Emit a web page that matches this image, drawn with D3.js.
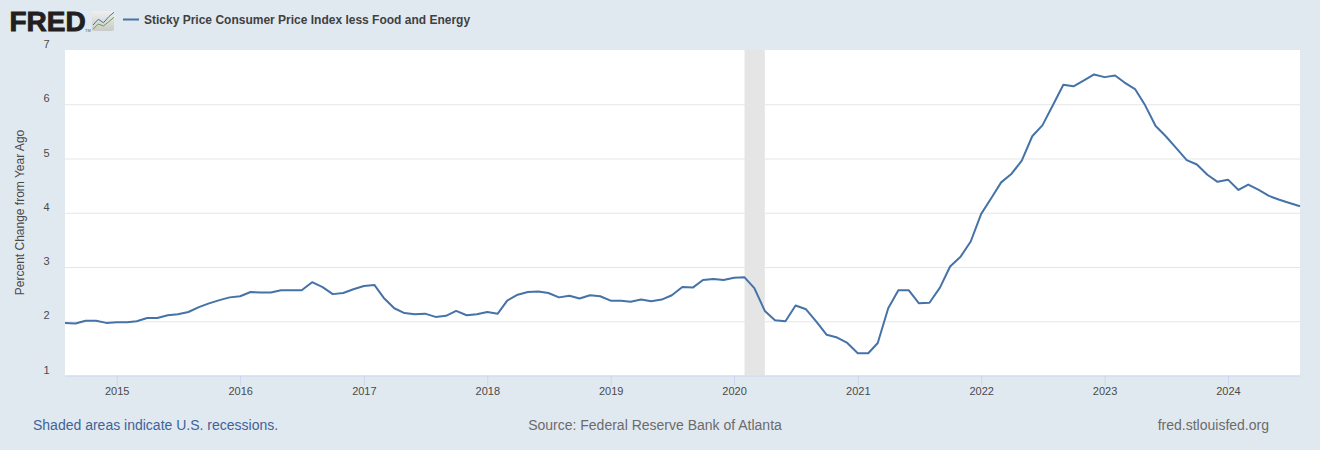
<!DOCTYPE html>
<html>
<head>
<meta charset="utf-8">
<script src="https://cdn.jsdelivr.net/npm/d3@7/dist/d3.min.js"></script>
<style>
html,body{margin:0;padding:0;background:#e1e9f0;}
svg{display:block;}
text{font-family:"Liberation Sans",Arial,sans-serif;}
</style>
</head>
<body>
<svg id="chart" width="1320" height="450"></svg>
<script>
const startMonth = "2014-08-01";
const seriesName = "Sticky Price Consumer Price Index less Food and Energy";
const values = [
1.97,1.96,2.01,2.01,1.97,
1.98,1.98,2.00,2.06,2.06,2.11,2.13,2.17,2.26,2.33,2.39,2.44,
2.46,2.54,2.53,2.53,2.57,2.57,2.57,2.72,2.63,2.50,2.52,2.59,
2.65,2.67,2.43,2.24,2.15,2.13,2.14,2.08,2.10,2.19,2.11,2.13,
2.17,2.14,2.38,2.49,2.54,2.55,2.52,2.44,2.47,2.42,2.48,2.46,
2.38,2.38,2.36,2.40,2.37,2.40,2.48,2.63,2.62,2.76,2.78,2.76,
2.80,2.81,2.61,2.19,2.02,2.00,2.29,2.22,1.99,1.75,1.70,1.60,
1.41,1.41,1.60,2.24,2.57,2.57,2.33,2.34,2.62,3.01,3.19,3.47,
3.98,4.28,4.56,4.72,4.96,5.41,5.61,5.98,6.36,6.33,6.44,6.55,
6.50,6.53,6.40,6.28,5.98,5.60,5.41,5.19,4.97,4.89,4.70,4.57,
4.61,4.42,4.52,4.42,4.31,4.24,4.18,4.12];
const recessions = [["2020-02-01","2020-04-01"]];
const yTicks = [1,2,3,4,5,6,7];
const xTickYears = [2015,2016,2017,2018,2019,2020,2021,2022,2023,2024];
const yLabel = "Percent Change from Year Ago";
const footLeft = "Shaded areas indicate U.S. recessions.";
const footMid = "Source: Federal Reserve Bank of Atlanta";
const footRight = "fred.stlouisfed.org";
const iconBlue = [3,5.85,4.15,7.15,9.35];
const iconGreen = [0.85,3.5,2.5,4.65,6.85];

const parse = d3.utcParse("%Y-%m-%d");
const months = d3.utcMonth.range(parse(startMonth), d3.utcMonth.offset(parse(startMonth), values.length));
const data = months.map((d,i)=>({date:d,value:values[i]}));

const L=65,R=1300,T=50,B=375.5;
const x = d3.scaleUtc().domain([months[0],months[months.length-1]]).range([L,R]);
const y = d3.scaleLinear().domain([1,7]).range([B,T]);
const svg = d3.select("#chart");

const defs = svg.append("defs");
const grad = defs.append("linearGradient").attr("id","iconBg").attr("x1",0).attr("y1",0).attr("x2",0).attr("y2",1);
grad.append("stop").attr("offset",0).attr("stop-color","#eef0ef");
grad.append("stop").attr("offset",1).attr("stop-color","#c9cbc8");

svg.append("rect").attr("x",L).attr("y",T).attr("width",R-L).attr("height",B-T).attr("fill","#fff");

svg.append("g").selectAll("rect").data(recessions).join("rect")
  .attr("x",d=>x(parse(d[0]))).attr("width",d=>x(parse(d[1]))-x(parse(d[0])))
  .attr("y",T).attr("height",B-T).attr("fill","#e5e5e5");

const tickFont = '"Liberation Sans",Arial,sans-serif';
const gy = svg.append("g").attr("transform",`translate(${L},0)`)
  .call(d3.axisLeft(y).tickValues(yTicks).tickSize(-(R-L)).tickPadding(0).tickFormat(d3.format("d")));
gy.select(".domain").remove();
gy.selectAll(".tick line").attr("stroke","#e6e6e6").attr("stroke-width",1)
  .attr("display",d=>(d===1||d===7)?"none":null);
gy.selectAll(".tick text").attr("x",-15.5).attr("dy",null).attr("y",-2.5).attr("text-anchor","end")
  .attr("font-size",11).attr("fill","#4a4a4a").style("font-family",tickFont);

const gx = svg.append("g").attr("transform",`translate(0,${B})`)
  .call(d3.axisBottom(x).tickValues(xTickYears.map(v=>new Date(Date.UTC(v,0,1)))).tickSize(10).tickPadding(2).tickFormat(d3.utcFormat("%Y")));
gx.select(".domain").attr("d",`M${L},0.5H${R}`).attr("stroke","#ccd6eb");
gx.selectAll(".tick line").attr("stroke","#ccd6eb");
gx.selectAll(".tick text").attr("font-size",11).attr("fill","#4a4a4a").style("font-family",tickFont);

const line = d3.line().x(d=>x(d.date)).y(d=>y(d.value));
svg.append("path").datum(data).attr("d",line).attr("fill","none")
  .attr("stroke","#4572a7").attr("stroke-width",2).attr("stroke-linejoin","round");

svg.append("text").attr("transform","translate(24,212.5) rotate(-90)").attr("text-anchor","middle")
  .attr("font-size",12).attr("fill","#4a4a4a").text(yLabel);

// Header: wordmark, icon, legend
svg.append("text").attr("x",9.5).attr("y",31).attr("font-size",28).attr("font-weight",700)
  .attr("fill","#231f20").attr("stroke","#231f20").attr("stroke-width",0.9).text("FRED");
svg.append("text").attr("x",85).attr("y",32).attr("font-size",4).attr("fill","#555").text("TM");
const icon = svg.append("g").attr("transform","translate(92,11)");
icon.append("rect").attr("width",22).attr("height",20).attr("rx",2).attr("fill","url(#iconBg)");
const iconX = d3.scaleLinear().domain([0,4]).range([1,22]);
const iconY = d3.scaleLinear().domain([0,10]).range([20,0]);
const iconLine = d3.line().x((d,i)=>iconX(i)).y(d=>iconY(d));
icon.append("path").attr("d",iconLine(iconBlue)).attr("fill","none").attr("stroke","#4572a7").attr("stroke-width",1);
icon.append("path").attr("d",iconLine(iconGreen)).attr("fill","none").attr("stroke","#6aa03c").attr("stroke-width",1);

svg.append("line").attr("x1",123).attr("x2",139).attr("y1",19.5).attr("y2",19.5)
  .attr("stroke","#4572a7").attr("stroke-width",2);
svg.append("text").attr("x",144).attr("y",24).attr("font-size",12).attr("font-weight",700)
  .attr("fill","#404040").text(seriesName);

// Footer
svg.append("text").attr("x",33).attr("y",430).attr("font-size",14).attr("fill","#3e6398").text(footLeft);
svg.append("text").attr("x",655).attr("y",430).attr("text-anchor","middle").attr("font-size",14).attr("fill","#6b6b6b").text(footMid);
svg.append("text").attr("x",1269).attr("y",430).attr("text-anchor","end").attr("font-size",14).attr("fill","#6b6b6b").text(footRight);
</script>
</body>
</html>
